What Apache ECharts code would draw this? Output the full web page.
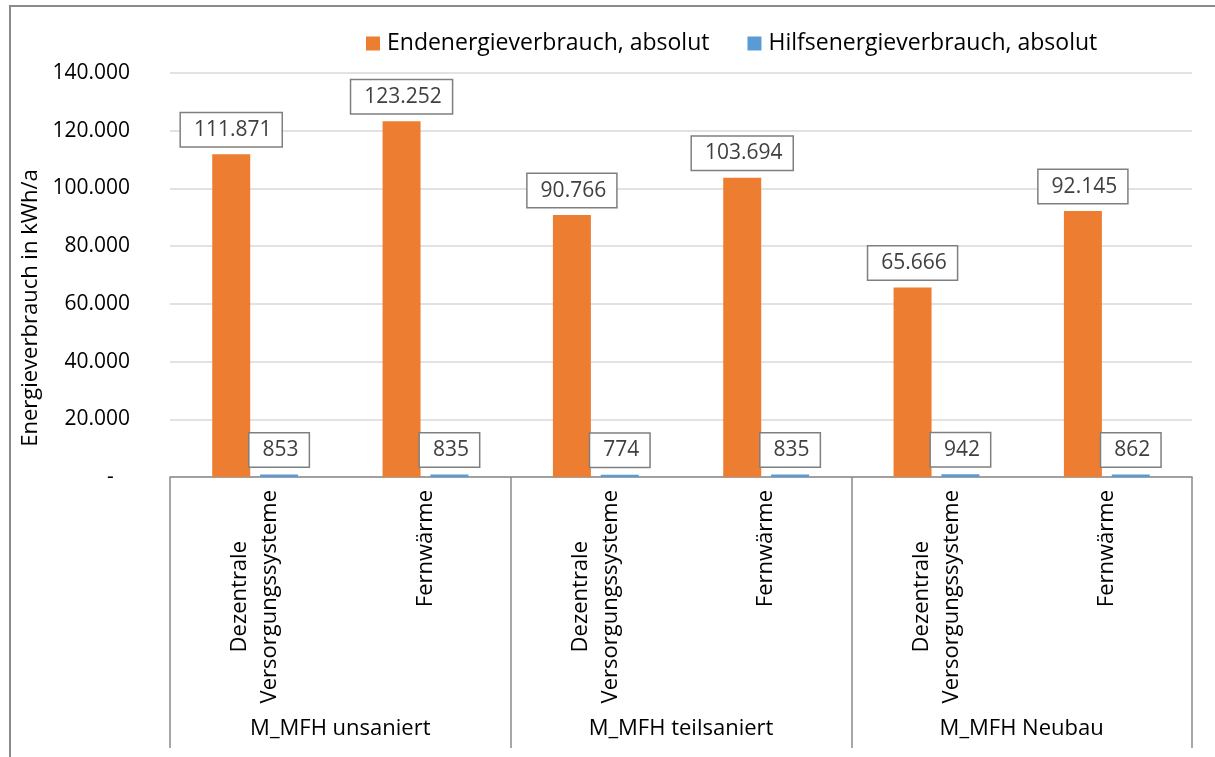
<!DOCTYPE html>
<html>
<head>
<meta charset="utf-8">
<script src="https://cdn.jsdelivr.net/npm/echarts@6/dist/echarts.min.js"></script>
<style>
  html, body { margin: 0; padding: 0; background: #fff; overflow: hidden; }
  #chart { width: 1215px; height: 757px; }
  #frame {
    position: absolute; left: 9px; top: 5px; width: 2000px; height: 2000px;
    border-left: 2px solid #8a8a8a; border-top: 2px solid #8a8a8a;
    pointer-events: none;
  }
</style>
</head>
<body>
<div id="chart"></div>
<div id="frame"></div>
<script>
var categories = [
  'Dezentrale\nVersorgungssysteme', 'Fernwärme',
  'Dezentrale\nVersorgungssysteme', 'Fernwärme',
  'Dezentrale\nVersorgungssysteme', 'Fernwärme'
]
var groups = ['M_MFH unsaniert', 'M_MFH teilsaniert', 'M_MFH Neubau']
var endenergie = [111871, 123252, 90766, 103694, 65666, 92145]
var hilfsenergie = [853, 835, 774, 835, 942, 862]
var seriesNames = ['Endenergieverbrauch, absolut', 'Hilfsenergieverbrauch, absolut']

var FONT = '"Open Sans", "Noto Sans", sans-serif'

// Tausenderpunkt wie im Original
function fmt(v) {
  if (v === 0) return '-   '
  return String(Math.round(v)).replace(/\B(?=(\d{3})+(?!\d))/g, '.')
}

var labelStyle = {
  show: true,
  position: 'top',
  distance: 8,
  color: '#404040',
  fontFamily: FONT,
  fontSize: 21,
  backgroundColor: '#fff',
  borderColor: '#7f7f7f',
  borderWidth: 1.5,
  padding: [6, 10, 6, 13],
  formatter: function (p) { return fmt(p.value) }
}

var chart = echarts.init(document.getElementById('chart'))
chart.setOption({
  animation: false,
  color: ['#ED7D31', '#5B9BD5'],
  legend: {
    data: seriesNames,
    left: 361,
    top: 27,
    icon: 'rect',
    itemWidth: 14,
    itemHeight: 14,
    itemGap: 38,
    textStyle: { fontFamily: FONT, fontSize: 23, color: '#000', padding: [0, 0, 0, 2] }
  },
  grid: { left: 170, right: 23, top: 73, bottom: 280 },
  xAxis: [
    {
      type: 'category',
      data: categories,
      position: 'bottom',
      axisLine: { show: false },
      axisTick: { show: false },
      axisLabel: {
        interval: 0,
        rotate: 90,
        margin: 13,
        fontFamily: FONT,
        fontSize: 22,
        color: '#000',
        formatter: function (v) {
          return v.split('\n').map(function (s) { return '{c|' + s + '}' }).join('\n')
        },
        rich: {
          c: { align: 'center', fontFamily: FONT, fontSize: 22, color: '#000', lineHeight: 30 }
        }
      }
    },
    {
      type: 'category',
      data: groups,
      position: 'bottom',
      axisLine: { show: true, lineStyle: { color: '#8a8a8a', width: 1.5 } },
      axisTick: { show: true, interval: 0, length: 271, lineStyle: { color: '#8a8a8a', width: 1.5 } },
      axisLabel: { interval: 0, margin: 241, fontFamily: FONT, fontSize: 22, color: '#000' }
    }
  ],
  yAxis: {
    type: 'value',
    min: 0,
    max: 140000,
    interval: 20000,
    name: 'Energieverbrauch in kWh/a',
    nameLocation: 'middle',
    nameGap: 125,
    nameTextStyle: { fontFamily: FONT, fontSize: 22, color: '#000', padding: [0, 66, 0, 0] },
    axisLine: { show: false },
    axisTick: { show: false },
    axisLabel: { margin: 40, fontFamily: FONT, fontSize: 21, color: '#000', formatter: fmt },
    splitLine: { lineStyle: { color: '#d9d9d9', width: 1.5 } }
  },
  series: [
    {
      name: seriesNames[0],
      type: 'bar',
      xAxisIndex: 0,
      data: endenergie,
      barWidth: 38,
      barGap: '26%',
      label: labelStyle
    },
    {
      name: seriesNames[1],
      type: 'bar',
      xAxisIndex: 0,
      data: hilfsenergie,
      barWidth: 38,
      barGap: '26%',
      label: labelStyle
    }
  ]
})
</script>
</body>
</html>
